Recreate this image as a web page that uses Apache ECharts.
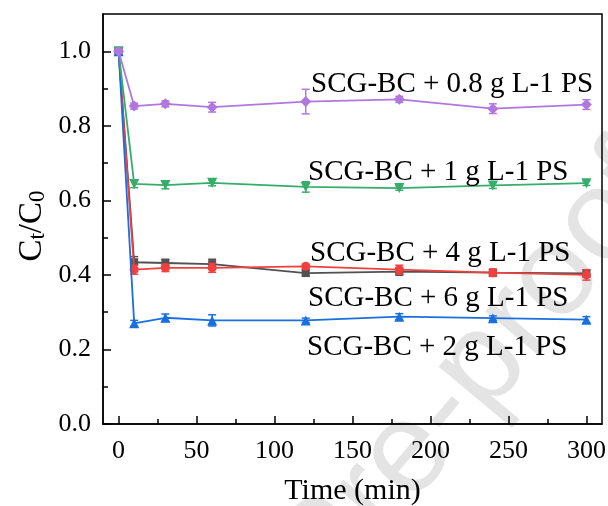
<!DOCTYPE html>
<html>
<head>
<meta charset="utf-8">
<script src="https://cdn.jsdelivr.net/npm/echarts@6/dist/echarts.min.js"></script>
<style>html,body{margin:0;padding:0;background:#fff;}#c{width:608px;height:506px;}</style>
</head>
<body>
<div id="c"></div>
<script>
const time = [0, 10, 30, 60, 120, 180, 240, 300];
const xTicks = [0, 50, 100, 150, 200, 250, 300];
const xMinorTicks = [25, 75, 125, 175, 225, 275];
const yTicks = [0, 0.2, 0.4, 0.6, 0.8, 1.0];
const yMinorTicks = [0.1, 0.3, 0.5, 0.7, 0.9];

const names = ['SCG-BC + 4 g L-1 PS', 'SCG-BC + 6 g L-1 PS', 'SCG-BC + 2 g L-1 PS', 'SCG-BC + 1 g L-1 PS', 'SCG-BC + 0.8 g L-1 PS'];
const ps4 = [1.0, 0.434, 0.432, 0.429, 0.405, 0.409, 0.406, 0.404];
const ps4Err = [0.005, 0.015, 0.010, 0.013, 0.008, 0.010, 0.008, 0.010];
const ps6 = [1.0, 0.414, 0.419, 0.419, 0.423, 0.414, 0.406, 0.400];
const ps6Err = [0.005, 0.012, 0.010, 0.012, 0.006, 0.012, 0.010, 0.014];
const ps2 = [1.0, 0.270, 0.285, 0.278, 0.278, 0.288, 0.284, 0.280];
const ps2Err = [0.005, 0.008, 0.010, 0.015, 0.006, 0.008, 0.006, 0.008];
const ps1 = [1.0, 0.644, 0.641, 0.647, 0.636, 0.633, 0.640, 0.646];
const ps1Err = [0.005, 0.010, 0.010, 0.008, 0.014, 0.006, 0.008, 0.006];
const ps08 = [1.0, 0.853, 0.859, 0.850, 0.865, 0.871, 0.846, 0.857];
const ps08Err = [0.005, 0.008, 0.008, 0.013, 0.033, 0.008, 0.013, 0.013];

const colors = ['#515151', '#F14040', '#1A6FDF', '#37AD6B', '#B177DE'];
const symbols = ['rect', 'circle', 'triangle', 'path://M0,0 L10,0 L5,10 Z', 'diamond'];
const symbolSizes = [8, 9, 10, 10, 11];
const allVals = [ps4, ps6, ps2, ps1, ps08];
const allErr = [ps4Err, ps6Err, ps2Err, ps1Err, ps08Err];

const serif = '"Liberation Serif", "Times New Roman", serif';

const chart = echarts.init(document.getElementById('c'), null, {renderer: 'canvas'});

const series = [];
allVals.forEach((vals, i) => {
  const errData = time.map((t, k) => [t, vals[k] - allErr[i][k], vals[k] + allErr[i][k]]);
  series.push({
    type: 'custom',
    name: names[i] + ' err',
    xAxisIndex: 0, yAxisIndex: 0,
    z: 2 + i * 2,
    silent: true,
    data: errData,
    renderItem: function (params, api) {
      const lo = api.coord([api.value(0), api.value(1)]);
      const hi = api.coord([api.value(0), api.value(2)]);
      const hw = 4;
      const st = {stroke: colors[i], lineWidth: 1.5};
      return {type: 'group', children: [
        {type: 'line', shape: {x1: lo[0], y1: lo[1], x2: hi[0], y2: hi[1]}, style: st},
        {type: 'line', shape: {x1: lo[0] - hw, y1: lo[1], x2: lo[0] + hw, y2: lo[1]}, style: st},
        {type: 'line', shape: {x1: hi[0] - hw, y1: hi[1], x2: hi[0] + hw, y2: hi[1]}, style: st}
      ]};
    }
  });
  series.push({
    type: 'line',
    name: names[i],
    xAxisIndex: 0, yAxisIndex: 0,
    z: 3 + i * 2,
    data: time.map((t, k) => [t, vals[k]]),
    symbol: symbols[i],
    symbolSize: symbolSizes[i],
    showAllSymbol: true,
    lineStyle: {color: colors[i], width: 1.8},
    itemStyle: {color: colors[i], borderWidth: 0},
    animation: false
  });
});

const labelPos = [
  {x: 310, y: 253},
  {x: 308, y: 298},
  {x: 307, y: 347},
  {x: 308, y: 172},
  {x: 311, y: 84}
];

const graphics = [
  {
    type: 'text', x: 326, y: 552, rotation: 50 * Math.PI / 180, z: -10, silent: true,
    style: {text: 'Journal Pre-proof', font: '130px "Liberation Sans", Arial, sans-serif', fill: '#e4e4e4', textAlign: 'center', textVerticalAlign: 'middle'}
  },
  {
    type: 'text', x: 29, y: 226, rotation: Math.PI / 2, z: 100, silent: true,
    style: {
      text: '{c|C}{s|t}{c|/C}{s|0}', textAlign: 'center', textVerticalAlign: 'middle', fill: '#000',
      rich: {
        c: {fontFamily: serif, fontSize: 33, fill: '#000', lineHeight: 40, verticalAlign: 'bottom'},
        s: {fontFamily: serif, fontSize: 23, fill: '#000', lineHeight: 30, verticalAlign: 'bottom'}
      }
    }
  }
];
names.forEach((n, i) => {
  graphics.push({
    type: 'text', x: labelPos[i].x, y: labelPos[i].y, z: 100,
    style: {text: n, font: '29px ' + serif, fill: '#000', textAlign: 'left', textVerticalAlign: 'middle'}
  });
});

chart.setOption({
  animation: false,
  backgroundColor: '#fff',
  grid: {left: 103, right: 6, top: 14, bottom: 82, show: true, borderColor: '#000', borderWidth: 1.5, backgroundColor: 'transparent', z: 50, containLabel: false, outerBoundsMode: 'none'},
  xAxis: [{
    type: 'value', min: -10, max: 310,
    name: 'Time (min)', nameLocation: 'middle', nameGap: 52,
    nameTextStyle: {fontFamily: serif, fontSize: 30, color: '#000'},
    axisLine: {show: true, onZero: false, lineStyle: {color: '#000', width: 1.5}},
    axisTick: {show: true, inside: true, length: 8, lineStyle: {color: '#000', width: 1.5}, customValues: xTicks},
    axisLabel: {show: true, fontFamily: serif, fontSize: 26, color: '#000', margin: 14, customValues: xTicks},
    splitLine: {show: false}
  }, {
    type: 'value', min: -10, max: 310, position: 'bottom',
    axisLine: {show: false, onZero: false},
    axisTick: {show: true, inside: true, length: 5, lineStyle: {color: '#000', width: 1.5}, customValues: xMinorTicks},
    axisLabel: {show: false},
    splitLine: {show: false}
  }],
  yAxis: [{
    type: 'value', min: 0, max: 1.1,
    axisLine: {show: true, onZero: false, lineStyle: {color: '#000', width: 1.5}},
    axisTick: {show: true, inside: true, length: 8, lineStyle: {color: '#000', width: 1.5}, customValues: yTicks},
    axisLabel: {show: true, fontFamily: serif, fontSize: 26, color: '#000', margin: 12, customValues: yTicks, formatter: v => v.toFixed(1)},
    splitLine: {show: false}
  }, {
    type: 'value', min: 0, max: 1.1, position: 'left',
    axisLine: {show: false, onZero: false},
    axisTick: {show: true, inside: true, length: 5, lineStyle: {color: '#000', width: 1.5}, customValues: yMinorTicks},
    axisLabel: {show: false},
    splitLine: {show: false}
  }],
  graphic: graphics,
  series: series
});
</script>
</body>
</html>
